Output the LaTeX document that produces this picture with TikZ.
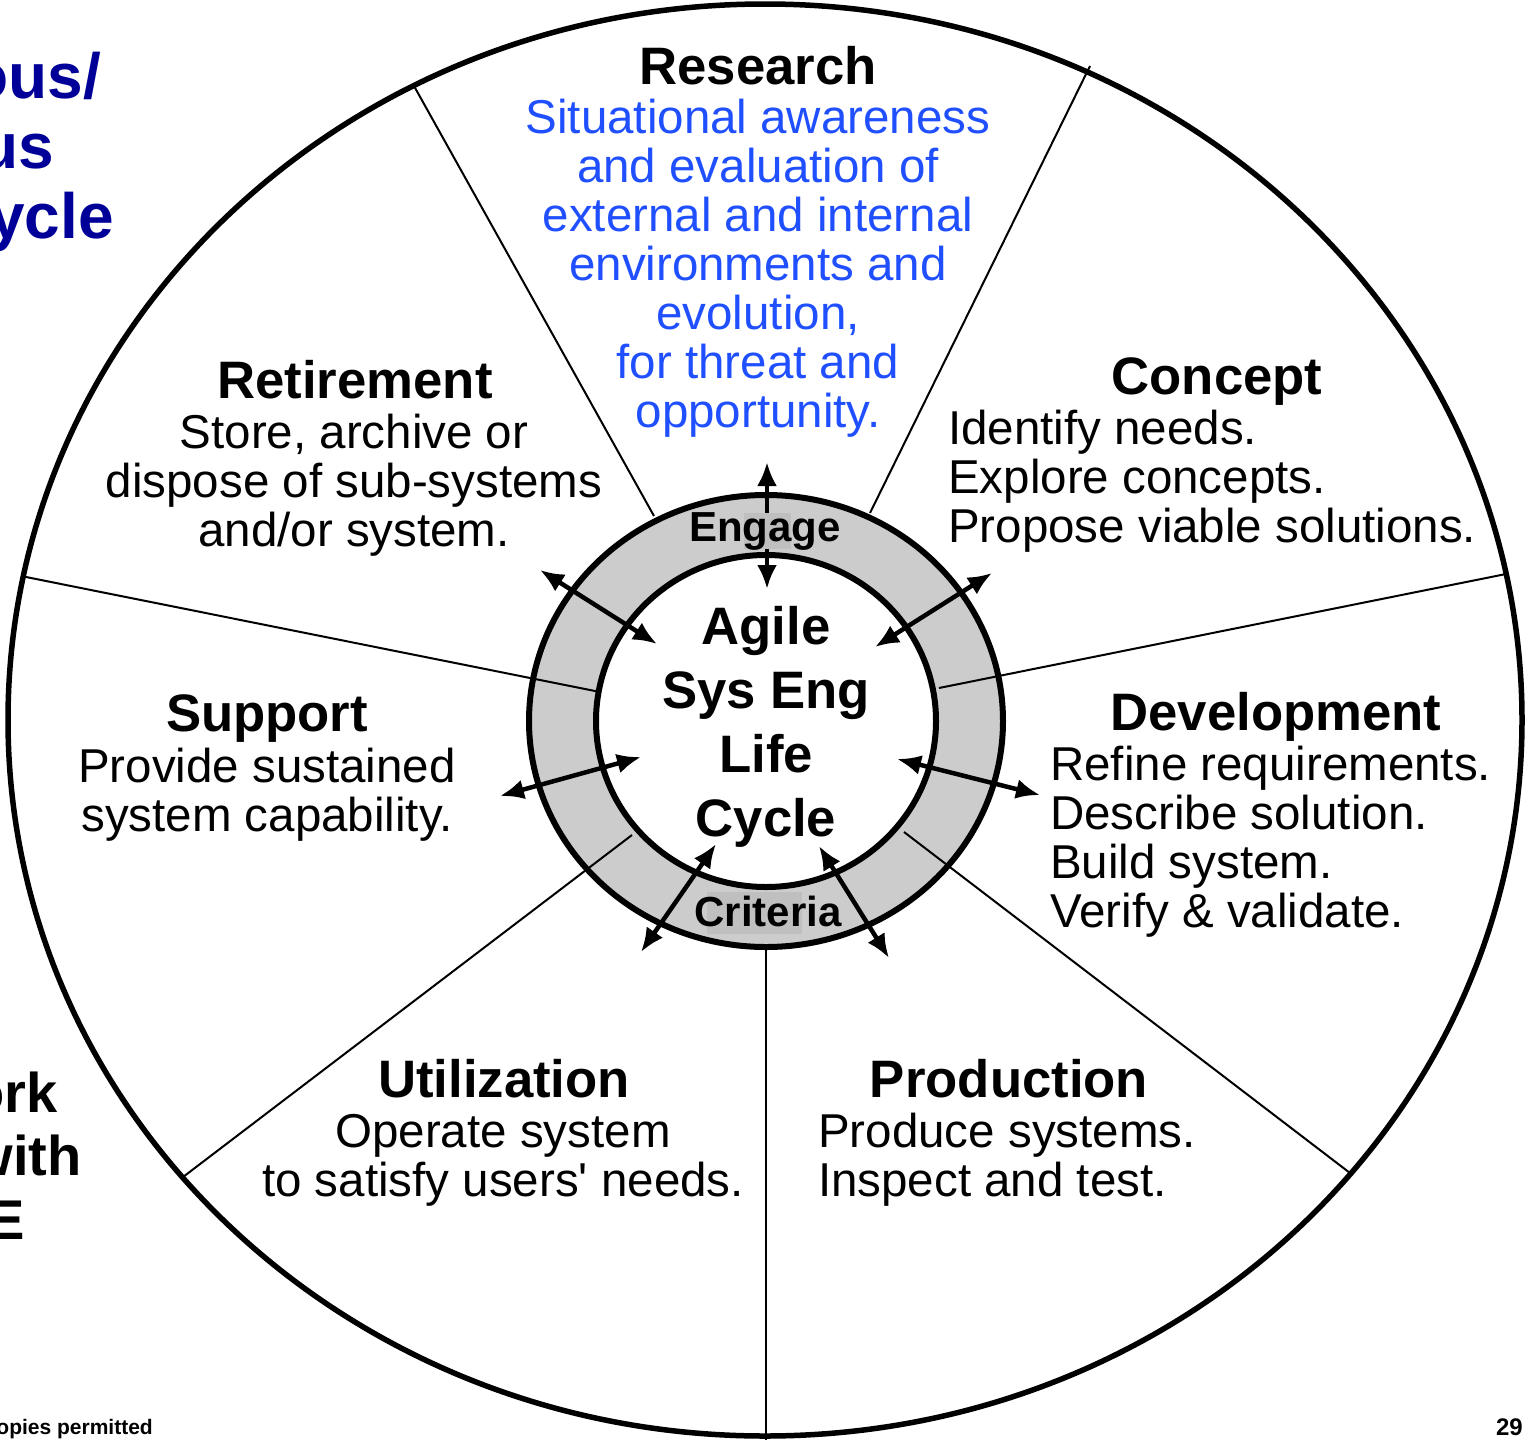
\documentclass[tikz,border=0pt]{standalone}
\usepackage{fontspec}
\setmainfont{Liberation Sans}
\usetikzlibrary{arrows.meta}
\definecolor{ringgray}{HTML}{CCCCCC}
\definecolor{patchgray}{HTML}{BFBFBF}
\definecolor{resblue}{HTML}{1F4FFF}
\definecolor{navyblue}{HTML}{000099}
\begin{document}
\begin{tikzpicture}[x=1pt,y=-1pt,line join=round,
  sectitle/.style={font=\fontsize{52.7}{56}\selectfont\bfseries, inner sep=0pt, anchor=base},
  bodyc/.style={font=\fontsize{47.5}{49}\selectfont, inner sep=0pt, anchor=base, align=center},
  bodyl/.style={font=\fontsize{47.5}{49}\selectfont, inner sep=0pt, anchor=base west, align=left},
  ringlabel/.style={font=\fontsize{42}{44}\selectfont\bfseries, inner sep=0pt, anchor=base},
  sectorline/.style={line width=2pt},
  rim/.style={line width=5.5pt},
  ringline/.style={line width=6pt},
  biarrow/.style={line width=4.5pt, {Latex[length=24pt,width=20pt]}-{Latex[length=24pt,width=20pt]}},
  sidetext/.style={font=\fontsize{64}{70}\selectfont\bfseries, text=navyblue, inner sep=0pt, anchor=base east},
  sidetextk/.style={font=\fontsize{56}{63}\selectfont\bfseries, inner sep=0pt, anchor=base east}]
\useasboundingbox (0,0) rectangle (1528,1440);
\fill[white] (0,0) rectangle (1528,1440);

% centre
\coordinate (hub) at (766,721);

% gray ring
\fill[ringgray, even odd rule] (hub) ellipse [x radius=237pt, y radius=226pt]
  (hub) ellipse [x radius=170pt, y radius=166pt];

% sector dividers
\coordinate (o1) at (414,86);   \coordinate (i1) at (654,516);
\coordinate (o2) at (1090,66);  \coordinate (i2) at (870,513);
\coordinate (o3) at (1506,574); \coordinate (i3) at (939,688);
\coordinate (o4) at (1350,1173);\coordinate (i4) at (904,832);
\coordinate (o5) at (766,1440); \coordinate (i5) at (766,949);
\coordinate (o6) at (183,1177); \coordinate (i6) at (632,835);
\coordinate (o7) at (26,577);   \coordinate (i7) at (600,692);
\foreach \k in {1,...,7} {\draw[sectorline] (o\k) -- (i\k);}

% outer rim and ring outlines
\draw[rim] (765,720) ellipse [x radius=757pt, y radius=716pt];
\draw[ringline] (hub) ellipse [x radius=237pt, y radius=226pt];
\draw[ringline] (hub) ellipse [x radius=170pt, y radius=166pt];

% double arrows
\coordinate (a1s) at (767,462); \coordinate (a1e) at (767,589);
\coordinate (a2s) at (540,570); \coordinate (a2e) at (657,644);
\coordinate (a3s) at (992,573); \coordinate (a3e) at (875,647);
\coordinate (a4s) at (500,796); \coordinate (a4e) at (641,757);
\coordinate (a5s) at (897,759); \coordinate (a5e) at (1040,795);
\coordinate (a6s) at (716,844); \coordinate (a6e) at (641,952);
\coordinate (a7s) at (819,846); \coordinate (a7e) at (889,958);
\foreach \k in {1,...,7} {\draw[biarrow] (a\k s) -- (a\k e);}

% text patches in the ring
\fill[patchgray] (744,513) rectangle (791,549);
\fill[patchgray] (707,892) rectangle (802,934);
\node[ringlabel] (engage) at (765,541) {Engage};
\node[ringlabel] (criteria) at (768,926) {Criteria};

% centre text (anchor = baseline of last line)
\node[font=\fontsize{52.7}{64}\selectfont\bfseries, inner sep=0pt, anchor=base, align=center] (core) at (766,836)
  {Agile\\Sys Eng\\Life\\Cycle};

% Research
\node[sectitle] (research) at (758,84) {Research};
\node[bodyc, text=resblue] (researchtxt) at (758,427)
  {Situational awareness\\and evaluation of\\external and internal\\environments and\\evolution,\\for threat and\\opportunity.};

% Retirement
\node[sectitle] (retire) at (355,398) {Retirement};
\node[bodyc] (retiretxt) at (354,546) {Store, archive or\\dispose of sub-systems\\and/or system.};

% Concept
\node[sectitle] (concept) at (1217,394) {Concept};
\node[bodyl] (concepttxt) at (948,542) {Identify needs.\\Explore concepts.\\Propose viable solutions.};

% Support
\node[sectitle] (support) at (267,731) {Support};
\node[bodyc] (supporttxt) at (267,831) {Provide sustained\\system capability.};

% Development
\node[sectitle] (develop) at (1276,730) {Development};
\node[bodyl] (developtxt) at (1050,927) {Refine requirements.\\Describe solution.\\Build system.\\Verify \& validate.};

% Utilization
\node[sectitle] (utilize) at (504,1097) {Utilization};
\node[bodyc] (utilizetxt) at (503,1196) {Operate system\\to satisfy users\textquotesingle{} needs.};

% Production
\node[sectitle] (produce) at (1009,1097) {Production};
\node[bodyl] (producetxt) at (818,1196) {Produce systems.\\Inspect and test.};

% cut-off side texts
\node[sidetext] (side1) at (101,98) {ous/};
\node[sidetext] (side2) at (54,168) {us};
\node[sidetext] (side3) at (114,238) {ycle};
\node[sidetextk] (side4) at (58,1112) {ork};
\node[sidetextk] (side5) at (82,1175) {with};
\node[sidetextk] (side6) at (25,1239) {E};
\node[font=\fontsize{21}{24}\selectfont\bfseries, inner sep=0pt, anchor=base east] (copy) at (153,1434) {opies permitted};
\node[font=\fontsize{24}{26}\selectfont\bfseries, inner sep=0pt, anchor=base east] (pageno) at (1523,1435) {29};
\end{tikzpicture}
\end{document}
